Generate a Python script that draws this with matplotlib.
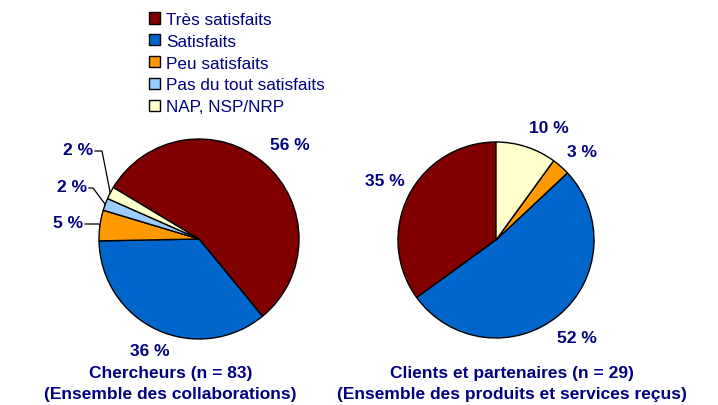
import numpy as np
import matplotlib
matplotlib.use("Agg")
import matplotlib.pyplot as plt

plt.rcParams['font.family'] = ['Liberation Sans', 'DejaVu Sans']

categories = ["Très satisfaits", "Satisfaits", "Peu satisfaits",
              "Pas du tout satisfaits", "NAP, NSP/NRP"]
colors = ["#800000", "#0066CC", "#FF9900", "#99CCFF", "#FFFFCC"]

chercheurs = [56, 36, 5, 2, 2]
clients = [35, 52, 3, 0, 10]

titre_gauche = "Chercheurs (n = 83)\n(Ensemble des collaborations)"
titre_droite = "Clients et partenaires (n = 29)\n(Ensemble des produits et services reçus)"

NAVY = "#000080"
W, H = 718, 406
FS = 12.5

fig = plt.figure(figsize=(W / 100, H / 100), dpi=100)
ax = fig.add_axes([0, 0, 1, 1])
ax.set_xlim(0, W)
ax.set_ylim(0, H)
ax.set_aspect('equal')
ax.axis('off')


def pie(vals, center, r, start, ccw):
    wedges, _ = ax.pie(vals, colors=colors, center=center, radius=r,
                       startangle=start, counterclock=ccw, frame=True,
                       wedgeprops=dict(edgecolor='black', linewidth=1.0))
    return wedges


def pt(center, r, ang):
    a = np.deg2rad(ang)
    return center[0] + r * np.cos(a), center[1] + r * np.sin(a)


lab_kw = dict(color=NAVY, fontsize=FS, fontweight='bold', ha='center', va='center')

# --- pie gauche (chercheurs)
cg = (199, H - 240)
rg = 100
wg = pie(chercheurs, cg, rg, 149, False)
mids = [(w.theta1 + w.theta2) / 2 for w in wg]
ax.text(*pt(cg, rg * 1.31, mids[0] - 3), f"{chercheurs[0]} %", **lab_kw)
ax.text(*pt(cg, rg * 1.22, mids[1] + 1), f"{chercheurs[1]} %", **lab_kw)

# petites parts : (indice, x fin du texte, y, x du coude)
petits = [(2, 83, H - 224, 99), (3, 87, H - 188, 93), (4, 93, H - 151, 102)]
for i, xt, yt, xc in petits:
    ax.text(xt, yt, f"{chercheurs[i]} %", color=NAVY, fontsize=FS,
            fontweight='bold', ha='right', va='center')
    xe, ye = pt(cg, rg, mids[i])
    ax.plot([xt + 2, xc, xe], [yt - 1, yt - 1, ye], color='black', lw=0.9,
            solid_joinstyle='miter')

# --- pie droite (clients)
cd = (496, H - 241)
rd = 98
wd = pie(clients, cd, rd, 90, True)
midd = [(w.theta1 + w.theta2) / 2 for w in wd]
ax.text(*pt(cd, rd * 1.29, midd[0] - 1), f"{clients[0]} %", **lab_kw)
ax.text(*pt(cd, rd * 1.29, midd[1]), f"{clients[1]} %", **lab_kw)
ax.text(*pt(cd, rd * 1.26, midd[2] - 3), f"{clients[2]} %", **lab_kw)
ax.text(*pt(cd, rd * 1.27, midd[4] - 7), f"{clients[4]} %", **lab_kw)

# titres
tit_kw = dict(color=NAVY, fontsize=FS, fontweight='bold', ha='center', va='center',
              linespacing=1.45)
ax.text(170.5, H - 384, titre_gauche, **tit_kw)
ax.text(512, H - 384, titre_droite, **tit_kw)

# légende
leg = fig.legend(wg, categories, loc='upper left', bbox_to_anchor=(137 / W, 1 - 1 / H),
                 frameon=False, fontsize=12.3, handlelength=0.65, handleheight=0.65,
                 handletextpad=0.35, labelspacing=0.4, borderpad=0.2)
for t in leg.get_texts():
    t.set_color(NAVY)

fig.savefig("out.png", dpi=100)
